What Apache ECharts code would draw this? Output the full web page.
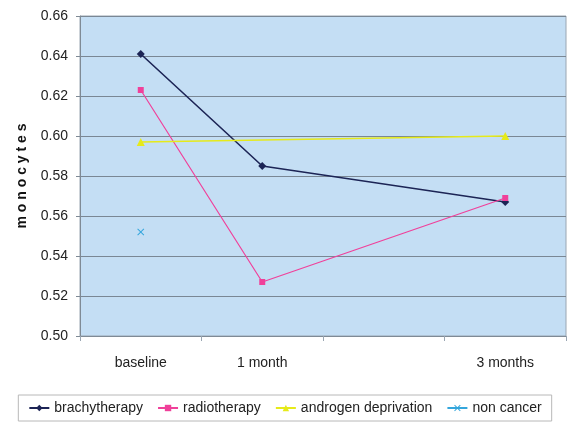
<!DOCTYPE html>
<html>
<head>
<meta charset="utf-8">
<script src="https://cdn.jsdelivr.net/npm/echarts@6/dist/echarts.min.js"></script>
<style>
  html, body { margin: 0; padding: 0; background: #ffffff; }
  #chart { width: 570px; height: 429px; }
</style>
</head>
<body>
<div id="chart"></div>
<script>
// Time points (the blank slot keeps the 3-month point two steps after 1 month)
const timePoints = ['baseline', '1 month', '', '3 months'];

// Monocyte counts per group
const brachytherapy = [0.641, 0.585, null, 0.567];
const radiotherapy = [0.623, 0.527, null, 0.569];
const androgenDeprivation = [0.597, null, null, 0.600];
const nonCancer = [0.552, null, null, null];

const yTicks = { min: 0.50, max: 0.66, step: 0.02 };

const crossPath = 'path://M0,1L1,0L5,4L9,0L10,1L6,5L10,9L9,10L5,6L1,10L0,9L4,5Z';

const chart = echarts.init(document.getElementById('chart'));

function lineSeries(name, data, color, symbol, size, width) {
  return {
    name: name,
    type: 'line',
    data: data,
    connectNulls: true,
    symbol: symbol,
    symbolSize: size,
    showAllSymbol: true,
    lineStyle: { color: color, width: width },
    itemStyle: { color: color },
    emphasis: { disabled: true },
    animation: false
  };
}

chart.setOption({
  backgroundColor: '#ffffff',
  textStyle: { fontFamily: 'Liberation Sans, Arial, sans-serif' },
  grid: { left: 80, right: 4, top: 16, bottom: 93, show: true,
          backgroundColor: '#c4def4', borderColor: '#9aa6b2', borderWidth: 1 },
  legend: {
    bottom: 8,
    left: 'center',
    itemGap: 14,
    itemWidth: 20,
    itemHeight: 8,
    padding: [6, 10],
    borderColor: '#b8b8b8',
    borderWidth: 1,
    textStyle: { fontSize: 14, color: '#222' },
    data: ['brachytherapy', 'radiotherapy', 'androgen deprivation', 'non cancer']
  },
  xAxis: {
    type: 'category',
    data: timePoints,
    boundaryGap: true,
    axisLine: { lineStyle: { color: '#7f8a95' } },
    axisTick: { show: true, interval: 0, length: 5, lineStyle: { color: '#9aa6b2' } },
    axisLabel: { interval: 0, margin: 20, fontSize: 14, color: '#222' }
  },
  yAxis: {
    type: 'value',
    min: yTicks.min,
    max: yTicks.max,
    interval: yTicks.step,
    name: 'm o n o c y t e s',
    nameLocation: 'middle',
    nameGap: 51,
    nameTextStyle: { fontSize: 14, fontWeight: 'bold', color: '#111' },
    axisLine: { show: true, lineStyle: { color: '#7f8a95' } },
    axisTick: { show: true, length: 4, lineStyle: { color: '#7f8a95' } },
    axisLabel: { fontSize: 14, color: '#222', margin: 12,
                 formatter: v => v.toFixed(2) },
    splitLine: { lineStyle: { color: '#7a8794', width: 1 } }
  },
  series: [
    lineSeries('brachytherapy', brachytherapy, '#1c2455', 'diamond', 8, 1.6),
    lineSeries('radiotherapy', radiotherapy, '#f0409a', 'rect', 6, 1.2),
    lineSeries('androgen deprivation', androgenDeprivation, '#e6ea1a', 'triangle', 8, 1.6),
    lineSeries('non cancer', nonCancer, '#34a6dc', crossPath, 7, 1.2)
  ]
});
</script>
</body>
</html>
